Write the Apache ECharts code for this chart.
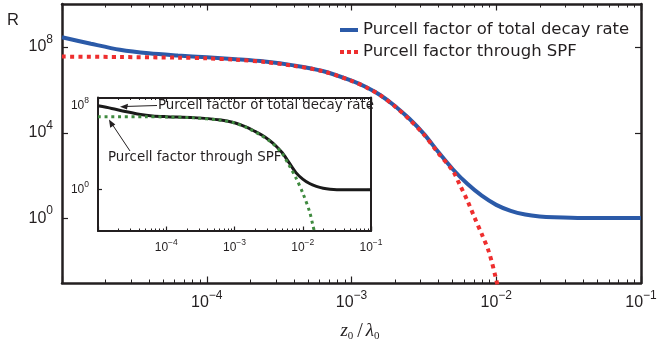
<!DOCTYPE html>
<html><head><meta charset="utf-8">
<script src="https://cdn.jsdelivr.net/npm/echarts@6/dist/echarts.min.js"></script>
<style>html,body{margin:0;padding:0;background:#fff}#c{width:657px;height:346px}</style>
</head><body><div id="c"></div>
<script>
// ---- data ----
const seriesNames = ['Purcell factor of total decay rate', 'Purcell factor through SPF'];
const xTotal = [1e-5, 1.585e-5, 2.512e-5, 3.981e-5, 6.310e-5, 1e-4, 1.585e-4, 2.512e-4, 3.981e-4, 6.310e-4, 1e-3, 1.259e-3, 1.585e-3, 1.995e-3, 2.512e-3, 3.162e-3, 3.981e-3, 5.012e-3, 6.310e-3, 7.943e-3, 1e-2, 1.259e-2, 1.585e-2, 1.995e-2, 2.512e-2, 3.981e-2, 1e-1];
const yTotal = [2.82e8, 1.41e8, 7.41e7, 5.01e7, 3.98e7, 3.31e7, 2.69e7, 2.09e7, 1.38e7, 7.59e6, 2.69e6, 1.35e6, 5.62e5, 1.78e5, 4.47e4, 8.91e3, 1.26e3, 200, 41.7, 11.7, 4.37, 2.29, 1.55, 1.26, 1.15, 1.07, 1.07];
const xSpf = [1e-5, 2.512e-5, 6.310e-5, 1e-4, 1.585e-4, 2.512e-4, 3.981e-4, 6.310e-4, 1e-3, 1.259e-3, 1.585e-3, 1.995e-3, 2.512e-3, 3.162e-3, 3.981e-3, 5.012e-3, 5.623e-3, 6.310e-3, 7.079e-3, 7.943e-3, 8.913e-3, 1e-2, 1.122e-2];
const ySpf = [3.55e7, 3.39e7, 3.16e7, 2.95e7, 2.51e7, 2.0e7, 1.32e7, 7.41e6, 2.63e6, 1.32e6, 5.5e5, 1.70e5, 4.17e4, 8.32e3, 1.12e3, 166, 35.5, 7.08, 1.12, 0.19, 0.0269, 1.41e-3, 5.0e-5];
const xInsetTotal = [1e-5, 1.585e-5, 2.512e-5, 3.981e-5, 6.310e-5, 1e-4, 2.512e-4, 6.310e-4, 1e-3, 1.259e-3, 1.585e-3, 1.995e-3, 2.512e-3, 3.162e-3, 3.981e-3, 5.012e-3, 6.310e-3, 7.943e-3, 1e-2, 1.259e-2, 1.585e-2, 1.995e-2, 2.512e-2, 3.162e-2, 1e-1];
const yInsetTotal = [1e8, 5.62e7, 2.82e7, 1.58e7, 1.07e7, 9.12e6, 7.41e6, 4.37e6, 2.4e6, 1.41e6, 7.59e5, 3.55e5, 1.58e5, 5.62e4, 1.58e4, 3.16e3, 355, 39.8, 9.55, 3.55, 1.91, 1.26, 1.0, 0.91, 0.89];
const xInsetSpf = [1e-5, 5.012e-5, 1e-4, 2.512e-4, 6.310e-4, 1e-3, 1.585e-3, 2.512e-3, 3.162e-3, 3.981e-3, 5.012e-3, 6.310e-3, 7.943e-3, 1e-2, 1.259e-2, 1.413e-2, 1.514e-2];
const yInsetSpf = [8.91e6, 8.91e6, 8.51e6, 7.08e6, 4.17e6, 2.24e6, 7.08e5, 1.35e5, 5.01e4, 1.41e4, 2.63e3, 200, 12.6, 0.447, 7.08e-3, 3.16e-4, 5.0e-5];
const mainXTickLabels = [1e-4, 1e-3, 1e-2, 1e-1];
const mainYTickLabels = [1, 1e4, 1e8];
const insetXTickLabels = [1e-4, 1e-3, 1e-2, 1e-1];
const insetYTickLabels = [1, 1e8];
const annotations = ['Purcell factor of total decay rate', 'Purcell factor through SPF'];

// ---- chart ----
const INK = '#231f20';
const pairs = (xs, ys) => xs.map((x, i) => [x, ys[i]]);

function powFmt(v) {
  const e = Math.round(Math.log10(v));
  return '{b|10}{s|' + (e < 0 ? '\u2212' + (-e) : e) + '}';
}
function richFor(base, sup, lift) {
  return {
    b: {fontSize: base, lineHeight: base, fontFamily: 'Liberation Sans', color: INK},
    s: {fontSize: sup, lineHeight: sup, fontFamily: 'Liberation Sans', color: INK, padding: [0, 0, lift, 0]}
  };
}
function xAx(grid, pos, showLabel, labels, big) {
  return {
    type: 'log', logBase: 10, gridIndex: grid, position: pos, min: 1e-5, max: 1e-1, interval: 1,
    axisLine: {show: true, onZero: false, lineStyle: {color: INK, width: big ? 2.5 : 2}},
    axisTick: {show: true, inside: true, length: big ? 6.5 : 4.5, lineStyle: {color: INK, width: 1.2}},
    minorTick: {show: true, splitNumber: 9, length: big ? 3.5 : 2.5, lineStyle: {color: INK, width: 1}},
    splitLine: {show: false}, minorSplitLine: {show: false},
    axisLabel: showLabel ? {show: true, customValues: labels, formatter: powFmt, margin: big ? 12 : 11,
      rich: big ? richFor(16, 12, 15) : richFor(12, 8.5, 10)} : {show: false}
  };
}
function yAx(grid, pos, showLabel, mn, mx, ticks, big) {
  return {
    type: 'log', logBase: 10, gridIndex: grid, position: pos, min: mn, max: mx,
    axisLine: {show: true, onZero: false, lineStyle: {color: INK, width: big ? 2.5 : 2}},
    axisTick: {show: true, inside: true, length: big ? 6 : 4, customValues: ticks, lineStyle: {color: INK, width: 1.2}},
    splitLine: {show: false},
    axisLabel: showLabel ? {show: true, customValues: ticks, formatter: powFmt, margin: 9,
      rich: big ? richFor(16, 12, 15) : richFor(12, 8.5, 10)} : {show: false}
  };
}

const chart = echarts.init(document.getElementById('c'), null, {renderer: 'canvas'});
const mainX = xAx(0, 'bottom', true, mainXTickLabels, true);
mainX.name = '{i|z}{sub|0}{sl|/}{i|\u03bb}{sub|0}';
mainX.nameLocation = 'middle';
mainX.nameGap = 34;
mainX.nameTextStyle = {
  padding: [0, 0, 0, 18],
  rich: {
    i: {fontFamily: 'Liberation Serif', fontStyle: 'italic', fontSize: 19, color: INK},
    sub: {fontFamily: 'Liberation Serif', fontSize: 11, color: INK, padding: [9, 1, 0, 0]},
    sl: {fontFamily: 'Liberation Serif', fontSize: 20, color: INK, padding: [0, 3, 0, 3]}
  }
};

const smoothOpts = {smooth: 0.3, symbol: 'none'};
chart.setOption({
  animation: false,
  backgroundColor: '#fff',
  grid: [
    {left: 62, right: 16, top: 4, bottom: 63, show: false, containLabel: false, outerBoundsMode: 'none'},
    {left: 98, top: 97.5, width: 273, height: 133.5, show: true, backgroundColor: '#fff', borderWidth: 0,
     containLabel: false, outerBoundsMode: 'none'}
  ],
  xAxis: [
    mainX,
    xAx(0, 'top', false, null, true),
    xAx(1, 'bottom', true, insetXTickLabels, false),
    xAx(1, 'top', false, null, false)
  ],
  yAxis: [
    yAx(0, 'left', true, 1e-3, 1e10, mainYTickLabels, true),
    yAx(0, 'right', false, 1e-3, 1e10, mainYTickLabels, true),
    yAx(1, 'left', true, 1e-4, 6.3e8, insetYTickLabels, false),
    yAx(1, 'right', false, 1e-4, 6.3e8, insetYTickLabels, false)
  ],
  legend: {
    data: [
      {name: seriesNames[0], icon: 'rect'},
      {name: seriesNames[1], icon: 'path://M0 0h4v4H0z M7 0h4v4H7z M14 0h4v4h-4z'}
    ],
    orient: 'vertical', left: 340, top: 20, padding: 0,
    itemWidth: 18, itemHeight: 4, itemGap: 2,
    textStyle: {fontFamily: 'DejaVu Sans', fontSize: 16.5, lineHeight: 20, color: INK}
  },
  series: [
    Object.assign({name: seriesNames[0], type: 'line', xAxisIndex: 0, yAxisIndex: 0, data: pairs(xTotal, yTotal),
     lineStyle: {color: '#2b5aa8', width: 4}, itemStyle: {color: '#2b5aa8'}}, smoothOpts),
    Object.assign({name: seriesNames[1], type: 'line', xAxisIndex: 0, yAxisIndex: 0, data: pairs(xSpf, ySpf),
     lineStyle: {color: '#ee2e2e', width: 4, type: [4, 4.3]}, itemStyle: {color: '#ee2e2e'}}, smoothOpts),
    Object.assign({name: 'inset total', type: 'line', xAxisIndex: 2, yAxisIndex: 2, data: pairs(xInsetTotal, yInsetTotal),
     lineStyle: {color: '#1a1a1a', width: 3}}, smoothOpts),
    Object.assign({name: 'inset spf', type: 'line', xAxisIndex: 2, yAxisIndex: 2, data: pairs(xInsetSpf, yInsetSpf),
     lineStyle: {color: '#3f8a3f', width: 3, type: [3, 3.7]}}, smoothOpts)
  ],
  graphic: [
    {type: 'text', left: 7, top: 12, style: {text: 'R', font: '16.5px "Liberation Sans"', fill: INK}},
    {type: 'text', x: 158, y: 106, style: {text: annotations[0], font: '13.4px "DejaVu Sans"', fill: INK, textVerticalAlign: 'middle'}},
    {type: 'text', x: 108, y: 158, style: {text: annotations[1], font: '13.4px "DejaVu Sans"', fill: INK, textVerticalAlign: 'middle'}},
    {type: 'line', shape: {x1: 157, y1: 105.5, x2: 124, y2: 106.5}, style: {stroke: INK, lineWidth: 1}},
    {type: 'polygon', shape: {points: [[120, 106.7], [128, 103.8], [127, 109.4]]}, style: {fill: INK}},
    {type: 'line', shape: {x1: 130, y1: 151, x2: 111, y2: 122.5}, style: {stroke: INK, lineWidth: 1}},
    {type: 'polygon', shape: {points: [[109, 119.5], [110.2, 127.8], [115.3, 124.5]]}, style: {fill: INK}}
  ]
});
</script></body></html>
